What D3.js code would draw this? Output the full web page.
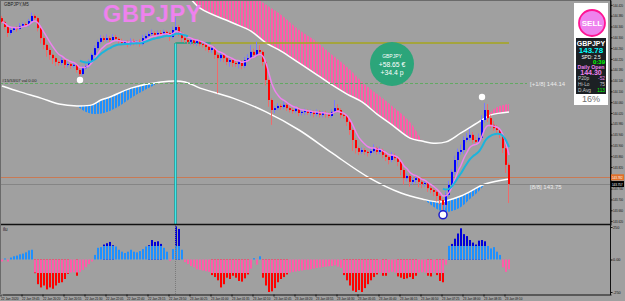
<!DOCTYPE html>
<html>
<head>
<meta charset="utf-8">
<script src="https://cdn.jsdelivr.net/npm/d3@7"></script>
<style>
  body { margin: 0; background: #a0a0a0; }
  svg { display: block; font-family: "Liberation Sans", Arial, sans-serif; }
</style>
</head>
<body>
<svg id="chart" width="625" height="301"></svg>
<script>
// ---- data (GBPJPY M5) ----
const firstOpen = 144.371;
const closes = [
  144.357,144.338,144.316,144.327,144.334,144.331,144.342,144.349,144.346,144.360,
  144.379,144.371,144.334,144.297,144.272,144.253,144.235,144.223,144.209,144.205,
  144.216,144.198,144.201,144.194,144.198,144.179,144.164,144.186,144.194,144.209,
  144.235,144.260,144.283,144.297,144.290,144.297,144.290,144.301,144.294,144.286,
  144.279,144.283,144.275,144.286,144.279,144.283,144.275,144.297,144.305,144.312,
  144.316,144.309,144.316,144.312,144.320,144.316,144.301,144.327,144.338,144.316,
  144.297,144.290,144.283,144.290,144.279,144.286,144.275,144.272,144.264,144.253,
  144.260,144.235,144.223,144.235,144.223,144.209,144.216,144.205,144.201,144.209,
  144.194,144.216,144.223,144.246,144.235,144.253,144.246,144.209,144.142,144.068,
  144.031,144.038,144.046,144.042,144.050,144.038,144.031,144.027,144.035,144.020,
  144.024,144.027,144.020,144.024,144.016,144.024,144.013,144.020,144.016,144.009,
  144.024,144.038,144.031,144.013,144.009,143.987,143.957,143.920,143.890,143.876,
  143.883,143.876,143.872,143.879,143.890,143.876,143.883,143.865,143.857,143.846,
  143.861,143.853,143.839,143.809,143.779,143.787,143.765,143.772,143.779,143.765,
  143.757,143.761,143.742,143.735,143.728,143.713,143.698,143.680,143.717,143.754,
  143.802,143.846,143.876,143.883,143.920,143.928,143.939,143.920,143.913,143.928,
  143.994,144.031,144.001,143.976,143.964,143.957,143.939,143.890,143.828,143.757
];
// wick lengths in pips above / below the body
const wickUp = [
  0.8,0.5,0.6,0.9,0.4,0.7,1.0,0.5,0.6,0.8, 1.2,0.6,0.5,0.4,0.6,0.5,0.8,0.4,0.6,0.5,
  0.9,0.4,0.7,0.5,0.6,0.4,0.5,0.8,0.6,0.9, 0.7,1.0,0.8,1.2,0.9,1.4,0.7,1.1,0.8,0.6,
  0.9,0.7,0.6,1.0,0.8,0.7,0.9,1.2,0.8,1.0, 1.3,0.7,0.9,1.1,0.8,0.6,0.5,1.2,3.7,0.8,
  0.6,0.9,0.5,0.7,0.6,0.8,0.5,0.6,0.7,0.5, 0.8,0.6,0.5,0.7,0.6,0.9,0.5,0.6,0.8,0.7,
  0.6,1.1,1.4,2.5,1.2,3.0,1.8,0.6,0.5,0.4, 0.6,0.9,1.0,0.8,1.2,0.7,0.6,0.8,1.0,0.6,
  0.7,0.9,0.6,0.8,0.5,0.9,0.6,0.7,0.8,0.5, 1.0,3.0,1.4,0.6,0.5,0.4,0.6,0.5,0.7,0.6,
  0.9,0.7,0.5,1.0,1.4,0.6,1.2,0.5,0.7,0.6, 1.5,0.9,0.6,0.5,0.7,1.0,0.6,1.1,1.3,0.7,
  0.6,0.9,0.5,0.7,0.6,0.5,0.6,0.8,1.2,1.5, 1.0,1.6,1.2,2.0,1.4,1.8,2.2,1.0,1.2,1.6,
  1.8,2.6,2.2,1.0,1.4,1.2,0.8,0.9,1.6,0.8
];
const wickDn = [
  0.6,0.9,1.5,0.7,0.6,1.0,0.5,0.8,0.6,0.7, 0.5,0.8,1.2,2.0,1.6,2.5,1.8,2.2,1.5,1.0,
  0.8,1.2,0.9,1.1,0.7,1.0,0.7,0.6,0.5,0.7, 0.6,0.5,0.7,0.6,0.8,0.6,0.9,0.5,0.7,1.0,
  0.8,0.6,1.2,0.7,0.9,0.6,1.0,0.5,0.6,0.5, 0.6,0.7,0.5,0.8,0.6,1.0,1.5,0.6,0.8,1.2,
  1.4,1.0,0.8,1.2,0.9,1.1,0.8,1.0,1.3,0.9, 1.0,1.5,13.0,1.2,1.5,1.2,1.8,1.4,1.0,1.6,
  1.2,0.8,0.7,0.6,0.9,0.6,0.8,1.4,2.0,2.5, 5.5,1.2,0.8,1.0,0.7,1.1,0.9,1.0,0.8,1.2,
  0.9,1.1,0.8,1.0,1.2,0.8,1.0,0.9,1.3,0.8, 0.7,0.6,0.9,1.2,1.0,1.5,1.8,4.0,2.0,1.2,
  0.8,1.0,1.3,0.9,0.7,1.0,0.8,1.2,1.5,1.6, 0.8,1.0,1.6,2.0,2.4,1.2,1.8,1.0,1.2,2.0,
  1.5,1.0,1.4,1.2,1.6,2.0,1.5,2.6,1.0,0.8, 0.9,1.2,2.5,1.0,1.4,0.8,1.0,1.2,1.0,0.9,
  0.7,1.0,1.4,1.2,1.0,1.5,1.2,1.8,3.0,7.0
];

// lower pane histogram: light buffer and dark buffer
const histLight = [
  -15,8,-15,15,25,30,40,45,55,70, 75,-100,-104,-104,-104,-104,-104,-104,-104,-104,
  -104,-104,-104,-100,-98,-100,-95,-80,-60,-35, -15,35,90,95,104,104,104,104,100,75,
  60,50,60,75,60,55,65,80,100,104, 104,104,104,104,90,60,-10,80,104,104,
  75,-20,-35,-50,-60,-75,-80,-85,-90,-95, -104,-104,-104,-104,-104,-104,-104,-104,-104,-104,
  -104,-104,-104,-70,10,-40,25,-104,-104,-104, -104,-104,-104,-104,-104,-104,-100,-95,-92,-88,
  -85,-80,-78,-75,-70,-65,-62,-58,-55,-52, -50,-45,-55,-65,-104,-104,-104,-104,-104,-104,
  -104,-104,-104,-104,-104,-104,-100,-104,-104,-100, -95,-100,-104,-104,-104,-104,-104,-104,-104,-100,
  -98,-100,-104,-104,-100,-104,-104,-104,-40,104, 104,104,104,104,104,104,104,104,104,104,
  104,104,104,85,95,60,35,-60,-95,-75
];
const histDark = [
  0,0,0,0,0,0,0,0,0,0, 0,-105,-190,-215,-200,-230,-215,-225,-200,-180,
  -175,-150,-110,0,0,-125,0,0,0,0, 0,0,0,0,115,125,135,110,0,0,
  0,0,0,0,0,0,0,0,0,110, 150,135,140,120,0,0,0,0,255,235,
  0,0,0,0,0,0,0,0,0,0, -120,-135,-160,-215,-190,-140,-150,-125,-140,-165,
  -170,-145,-115,0,0,0,0,-140,-200,-250, -245,-220,-175,-150,-135,-115,0,0,0,0,
  0,0,0,0,0,0,0,0,0,0, 0,0,0,0,-120,-160,-200,-240,-250,-235,
  -250,-220,-190,-160,-135,-115,0,-125,-125,0, 0,0,-130,-140,-150,-145,-135,-150,-125,0,
  0,0,-125,-130,0,-120,-165,-175,0,104, 120,160,200,240,195,180,150,130,115,145,
  150,140,0,0,0,0,0,0,0,0
];

// bands: [bar, price]
const upperBand = [
  [60,144.475],[62,144.453],[66,144.408],[77,144.353],[83,144.323],[88,144.279],[93,144.249],
  [99,144.205],[105,144.161],[110,144.124],[115,144.090],[120,144.061],[125,144.016],[130,143.976],
  [136,143.927],[140,143.916],[143,143.909],[148,143.913],[153,143.946],[160,143.994],[163,144.013],[169,144.024]
];
const lowerBand = [
  [0,144.120],[6,144.098],[13,144.075],[19,144.053],[25,144.046],[30,144.050],[33,144.068],[36,144.079],
  [43,144.112],[53,144.135],[61,144.135],[66,144.112],[77,144.075],[88,144.024],[99,143.957],[110,143.872],
  [122,143.783],[133,143.724],[140,143.702],[146,143.691],[153,143.713],[161,143.757],[169,143.776]
];
// clouds: [bar, top price, bottom price]
const pinkCloudA = [
  [62,144.457,144.453],[66,144.457,144.408],[77,144.457,144.353],[83,144.457,144.323],[88,144.420,144.279],
  [93,144.383,144.249],[99,144.327,144.205],[105,144.283,144.161],[110,144.235,144.124],[115,144.190,144.090],
  [120,144.135,144.061],[125,144.090,144.016],[130,144.046,143.976],[136,143.987,143.927],[140,143.918,143.916]
];
const pinkCloudB = [[162,144.009,144.007],[164,144.035,144.016],[166,144.046,144.018],[169,144.053,144.024]];
const blueCloudA = [
  [25,144.046,144.046],[28,144.046,144.024],[31,144.053,144.016],[34,144.072,144.020],[38,144.087,144.038],
  [43,144.112,144.075],[47,144.124,144.101],[51,144.131,144.124]
];
const blueCloudB = [
  [141,143.698,143.698],[144,143.693,143.672],[147,143.691,143.654],[150,143.702,143.657],[153,143.713,143.672],
  [156,143.728,143.702],[159,143.746,143.731],[161,143.757,143.757]
];
const cyanRanges = [[26, 62], [147, 169]];
const signals = [
  { i: 26, p: 144.142, kind: 'dot' },
  { i: 160, p: 144.079, kind: 'dot' },
  { i: 147, p: 143.643, kind: 'ring' }
];
const dayStart = 58;
const dailyOpenLevel = 144.279;
const bid = 143.757, ask = 143.782;
const murreyLevels = [
  { p: 144.131, label: '[+1/8] 144.14', dashed: true },
  { p: 143.750, label: '[8/8] 143.75', dashed: false }
];
const priceTicks = [144.420,144.380,144.340,144.300,144.260,144.220,144.180,144.140,144.100,144.060,
  144.020,143.980,143.940,143.900,143.860,143.820,143.740,143.700,143.660,143.620];
const histTicks = [250, 0, -250];
const timeTickIdx = [0,7,14,21,28,35,42,49,56,63,70,77,84,91,98,105,112,119,126,133,140,147,154,161,168];
const timeLabels = ['22 Jan 2020','22 Jan 19:45','22 Jan 20:20','22 Jan 20:55','22 Jan 21:30','22 Jan 22:05',
  '22 Jan 22:40','22 Jan 23:15','22 Jan 23:50','23 Jan 00:25','23 Jan 01:00','23 Jan 01:35','23 Jan 02:10',
  '23 Jan 02:45','23 Jan 03:20','23 Jan 03:55','23 Jan 04:30','23 Jan 05:05','23 Jan 05:40','23 Jan 06:15',
  '23 Jan 06:50','23 Jan 07:25','23 Jan 08:00','23 Jan 08:35','23 Jan 09:10'];

// ---- scales ----
const x = d3.scaleLinear().domain([0, 203]).range([2, 611]);
const y = d3.scaleLinear().domain([144.438, 143.6055]).range([0, 225]);
const h = d3.scaleLinear().domain([250, -250]).range([227, 292]);

const svg = d3.select('#chart');
svg.append('rect').attr('width', 625).attr('height', 301).attr('fill', '#a0a0a0');

const defs = svg.append('defs');
function stripes(id, color) {
  const p = defs.append('pattern').attr('id', id).attr('patternUnits', 'userSpaceOnUse')
    .attr('width', 3).attr('height', 4);
  p.append('rect').attr('x', 1).attr('width', 2).attr('height', 4).attr('fill', color);
}
stripes('pinkStripes', '#ff5ca8');
stripes('blueStripes', '#1e90ff');
defs.append('clipPath').attr('id', 'clipPrice').append('rect').attr('width', 610).attr('height', 224);
defs.append('clipPath').attr('id', 'clipHist').append('rect').attr('y', 225).attr('width', 610).attr('height', 69);

const pane = svg.append('g').attr('clip-path', 'url(#clipPrice)');

// clouds
const cloud = d3.area().x(d => x(d[0])).y0(d => y(d[2])).y1(d => y(d[1])).curve(d3.curveCatmullRom);
[pinkCloudA, pinkCloudB].forEach(c => pane.append('path').attr('d', cloud(c)).attr('fill', 'url(#pinkStripes)'));
[blueCloudA, blueCloudB].forEach(c => pane.append('path').attr('d', cloud(c)).attr('fill', 'url(#blueStripes)'));

// bands
const band = d3.line().x(d => x(d[0])).y(d => y(d[1])).curve(d3.curveCatmullRom);
[upperBand, lowerBand].forEach(b => pane.append('path').attr('d', band(b))
  .attr('fill', 'none').attr('stroke', '#ffffff').attr('stroke-width', 1.5));

// horizontal levels
murreyLevels.filter(m => m.dashed).forEach(m => {
  pane.append('line').attr('x1', 0).attr('x2', 527).attr('y1', Math.round(y(m.p)) + 0.5).attr('y2', Math.round(y(m.p)) + 0.5)
    .attr('stroke', '#62a862').attr('stroke-dasharray', '3,2');
});
murreyLevels.forEach(m => {
  pane.append('text').attr('x', 530).attr('y', y(m.p) + 3).attr('font-size', 6).attr('fill', '#ececec').text(m.label);
});
pane.append('line').attr('x1', 0).attr('x2', 610).attr('y1', Math.round(y(ask)) + 0.5).attr('y2', Math.round(y(ask)) + 0.5)
  .attr('stroke', '#c87a55');
pane.append('line').attr('x1', 0).attr('x2', 610).attr('y1', Math.round(y(bid)) + 0.5).attr('y2', Math.round(y(bid)) + 0.5)
  .attr('stroke', '#858585');

// day separator + daily open
const sepX = x(dayStart) - 0.5;
pane.append('line').attr('x1', sepX).attr('x2', sepX).attr('y1', y(dailyOpenLevel)).attr('y2', 224)
  .attr('stroke', '#1a9f9f').attr('stroke-width', 2.5);
pane.append('line').attr('x1', sepX).attr('x2', sepX).attr('y1', y(dailyOpenLevel)).attr('y2', 224)
  .attr('stroke', '#40e8e8').attr('stroke-width', 1);
pane.append('line').attr('x1', sepX).attr('x2', x(169)).attr('y1', y(dailyOpenLevel)).attr('y2', y(dailyOpenLevel))
  .attr('stroke', '#a6a61c').attr('stroke-width', 1.5);
pane.append('line').attr('x1', sepX).attr('x2', sepX + 35).attr('y1', y(dailyOpenLevel)).attr('y2', y(dailyOpenLevel))
  .attr('stroke', '#1a9f9f').attr('stroke-width', 1.5);

// candles
const bars = closes.map((c, i) => {
  const o = i ? closes[i - 1] : firstOpen;
  return { i, o, c, hi: Math.max(o, c) + wickUp[i] * 0.01, lo: Math.min(o, c) - wickDn[i] * 0.01, up: c >= o };
});
pane.selectAll('line.wick').data(bars).join('line').attr('class', 'wick')
  .attr('x1', d => x(d.i) - 0.5).attr('x2', d => x(d.i) - 0.5)
  .attr('y1', d => y(d.hi)).attr('y2', d => y(d.lo))
  .attr('stroke', d => d.up ? '#7a7aff' : '#f06a6a');
pane.selectAll('rect.body').data(bars).join('rect').attr('class', 'body')
  .attr('x', d => x(d.i) - 1).attr('width', 2)
  .attr('y', d => y(Math.max(d.o, d.c)))
  .attr('height', d => Math.max(1, Math.abs(y(d.o) - y(d.c))))
  .attr('fill', d => d.up ? '#0000ff' : '#ff0000');

// moving averages
function ema(arr, n) {
  const k = 2 / (n + 1), out = [];
  arr.forEach((v, i) => out.push(i ? out[i - 1] + k * (v - out[i - 1]) : v));
  return out;
}
const fast = ema(closes, 6), slow = ema(closes, 12);
const maLine = d3.line().x(d => x(d[0])).y(d => y(d[1])).curve(d3.curveMonotoneX);
pane.append('path').attr('d', maLine(fast.map((v, i) => [i, v])))
  .attr('fill', 'none').attr('stroke', '#ee82ee').attr('stroke-width', 1.5);
cyanRanges.forEach(([a, b]) => {
  pane.append('path').attr('d', maLine(slow.slice(a, b + 1).map((v, k) => [a + k, v])))
    .attr('fill', 'none').attr('stroke', '#1cb4dc').attr('stroke-width', 2);
});

// signal dots
signals.forEach(s => {
  pane.append('circle').attr('cx', x(s.i)).attr('cy', y(s.p)).attr('r', s.kind === 'ring' ? 4 : 3.2)
    .attr('fill', '#ffffff').attr('stroke', s.kind === 'ring' ? '#1a1acd' : 'none').attr('stroke-width', 1.5);
});

// labels in the price pane
svg.append('text').attr('x', 4).attr('y', 6).attr('font-size', 4.5).attr('fill', '#1a1a1a').text('GBPJPY,M5');
svg.append('text').attr('x', 2).attr('y', 82).attr('font-size', 4.2).attr('fill', '#1a1a1a').text('#15/53/07 val 0.00');
svg.append('text').attr('x', 103).attr('y', 22).attr('font-size', 23.5).attr('font-weight', 'bold')
  .attr('letter-spacing', 0.6).attr('fill', '#ee82ee').text('GBPJPY');

// profit bubble
svg.append('circle').attr('cx', 392).attr('cy', 64).attr('r', 22).attr('fill', '#2ca57a');
[['GBPJPY', 58, 5], ['+58.65 €', 66.5, 6.8], ['+34.4 p', 74.5, 6.8]].forEach(([t, ty, fs]) => {
  svg.append('text').attr('x', 392).attr('y', ty).attr('text-anchor', 'middle').attr('font-size', fs)
    .attr('fill', '#ffffff').text(t);
});

// info panel
svg.append('rect').attr('x', 574).attr('y', 3).attr('width', 34).attr('height', 102).attr('fill', '#ffffff');
svg.append('circle').attr('cx', 592).attr('cy', 23).attr('r', 13).attr('fill', '#ee82ee')
  .attr('stroke', '#ff1493').attr('stroke-width', 1.8);
svg.append('text').attr('x', 592).attr('y', 26).attr('text-anchor', 'middle').attr('font-size', 8)
  .attr('font-weight', 'bold').attr('fill', '#ffffff').text('SELL');
svg.append('rect').attr('x', 576).attr('y', 38).attr('width', 30).attr('height', 56).attr('fill', '#1c2024');
const info = [
  ['GBPJPY', 591, 45.5, 7, '#ffffff', 'middle', 'bold'],
  ['143.78', 591, 53, 8, '#00ffff', 'middle', 'bold'],
  ['SPD: 2.5', 591, 58.5, 4.8, '#ffffff', 'middle', 'normal'],
  ['0:39', 605, 64, 6, '#00ff00', 'end', 'bold'],
  ['Daily Open', 591, 68.8, 5.2, '#ee82ee', 'middle', 'bold'],
  ['144.30', 591, 74.5, 7, '#ee82ee', 'middle', 'bold'],
  ['P20p', 578, 80, 4.8, '#c8c8c8', 'start', 'normal'],
  ['-52', 605, 80, 4.8, '#ee82ee', 'end', 'normal'],
  ['Hi-Lo', 578, 86, 4.8, '#c8c8c8', 'start', 'normal'],
  ['75', 605, 86, 4.8, '#c8c8c8', 'end', 'normal'],
  ['D.Avg', 578, 92, 4.8, '#c8c8c8', 'start', 'normal'],
  ['113', 605, 92, 4.8, '#00ff00', 'end', 'normal']
];
info.forEach(([t, tx, ty, fs, col, anc, fw]) => {
  svg.append('text').attr('x', tx).attr('y', ty).attr('font-size', fs).attr('fill', col)
    .attr('text-anchor', anc).attr('font-weight', fw).text(t);
});
svg.append('text').attr('x', 591).attr('y', 102).attr('text-anchor', 'middle').attr('font-size', 9)
  .attr('fill', '#6e6e6e').text('16%');

// ---- histogram pane ----
const hist = svg.append('g').attr('clip-path', 'url(#clipHist)');
hist.selectAll('rect.dark').data(histDark).join('rect').attr('class', 'dark')
  .attr('x', (d, i) => x(i) - 1).attr('width', 2)
  .attr('y', d => Math.min(h(d), h(0))).attr('height', d => Math.abs(h(d) - h(0)))
  .attr('fill', d => d > 0 ? '#0000d8' : '#ff0000');
hist.selectAll('rect.light').data(histLight).join('rect').attr('class', 'light')
  .attr('x', (d, i) => x(i) - 1).attr('width', 2)
  .attr('y', d => Math.min(h(d), h(0))).attr('height', d => Math.abs(h(d) - h(0)))
  .attr('fill', d => d > 0 ? '#1e90ff' : '#ff5ca8');
hist.append('line').attr('x1', sepX).attr('x2', sepX).attr('y1', 225).attr('y2', 294)
  .attr('stroke', '#7a7a7a').attr('stroke-dasharray', '1,1');
svg.append('text').attr('x', 3).attr('y', 231).attr('font-size', 4.5).attr('fill', '#1a1a1a').text('ilu');

// frames
svg.append('line').attr('x1', 0).attr('x2', 611).attr('y1', 224.5).attr('y2', 224.5).attr('stroke', '#111').attr('stroke-width', 1.5);
svg.append('line').attr('x1', 0).attr('x2', 611).attr('y1', 0.5).attr('y2', 0.5).attr('stroke', '#6a6a6a');
svg.append('line').attr('x1', 0.5).attr('x2', 0.5).attr('y1', 0).attr('y2', 294).attr('stroke', '#6a6a6a');

// ---- axes ----
function styleAxis(g, fs) {
  g.selectAll('text').attr('font-size', fs).attr('fill', '#111').attr('font-family', '"Liberation Sans", Arial, sans-serif');
  g.selectAll('line').attr('stroke', '#111');
  g.select('.domain').attr('stroke', '#111');
}
svg.append('g').attr('transform', 'translate(610.5,0)')
  .call(d3.axisRight(y).tickValues(priceTicks).tickSize(2).tickSizeOuter(0).tickPadding(0.5).tickFormat(d3.format('.3f')))
  .call(g => styleAxis(g, 3.6))
  .call(g => g.selectAll('text').attr('textLength', 10).attr('lengthAdjust', 'spacingAndGlyphs'));
svg.append('g').attr('transform', 'translate(610.5,0)')
  .call(d3.axisRight(h).tickValues(histTicks).tickSize(2).tickSizeOuter(0).tickPadding(0.5)
    .tickFormat(d => d === 0 ? '0.00' : d))
  .call(g => g.select('.domain').remove())
  .call(g => styleAxis(g, 3.8));
svg.append('line').attr('x1', 610.5).attr('x2', 610.5).attr('y1', 0).attr('y2', 295).attr('stroke', '#111');
svg.append('g').attr('transform', 'translate(0,294.5)')
  .call(d3.axisBottom(x).tickValues(timeTickIdx).tickSize(2).tickSizeOuter(0).tickPadding(1)
    .tickFormat((d, k) => timeLabels[k]))
  .call(g => g.selectAll('.tick line').attr('transform', 'translate(-1.5,0)'))
  .call(g => styleAxis(g, 3.6))
  .call(g => g.selectAll('text').attr('text-anchor', 'start').attr('dx', -1.5)
    .attr('textLength', 17.5).attr('lengthAdjust', 'spacingAndGlyphs'));

// price boxes on the axis
[[ask, '#e0702a', '143.782'], [bid, '#000000', '143.757']].forEach(([p, col, t]) => {
  svg.append('rect').attr('x', 611).attr('y', y(p) - 3).attr('width', 13).attr('height', 6).attr('fill', col);
  svg.append('text').attr('x', 612).attr('y', y(p) + 1.5).attr('font-size', 3.8).attr('fill', '#ffffff')
    .attr('textLength', 10.5).attr('lengthAdjust', 'spacingAndGlyphs').text(t);
});
</script>
</body>
</html>
